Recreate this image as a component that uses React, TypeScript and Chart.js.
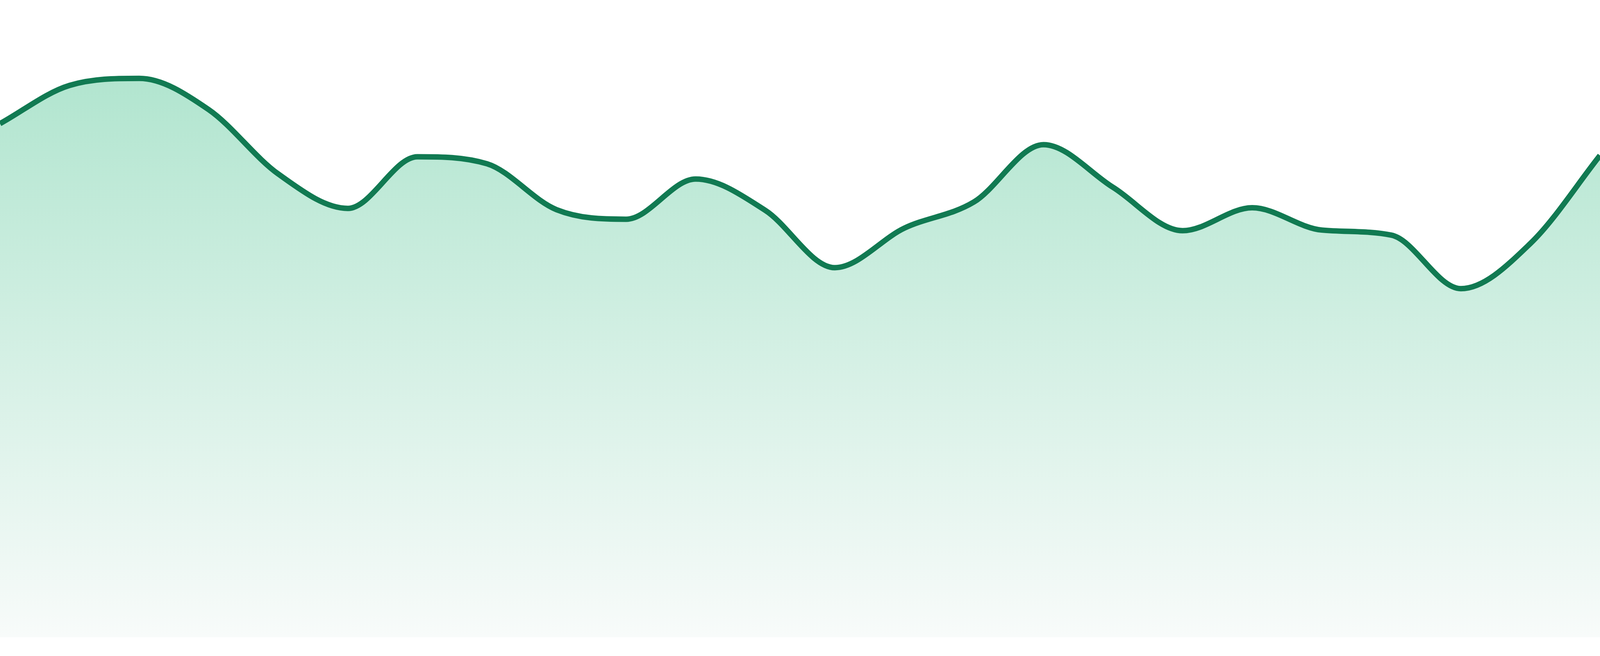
import React, { useEffect, useRef } from 'react';
import { Chart, registerables } from 'chart.js';

Chart.register(...registerables);

// ============================================
// DATA
// ============================================
const labels: string[] = [
  '1', '2', '3', '4', '5', '6', '7', '8', '9', '10', '11', '12',
  '13', '14', '15', '16', '17', '18', '19', '20', '21', '22', '23', '24',
];

const trendValues: number[] = [
  80.6, 86.6, 87.7, 82.8, 72.7, 67.3, 75.4, 74.3, 67.1, 65.6, 71.9, 67.0,
  58.0, 64.2, 68.3, 77.3, 70.6, 63.8, 67.4, 63.9, 63.1, 54.7, 61.8, 75.6,
];

const yRange: number[] = [0, 100];

// ============================================
// STYLE
// ============================================
// sizes measured on the 1680px tall picture, scaled to the real viewport height
const REF_H = 1680;
const LINE_COLOR = '#117a52';
const FILL_TOP = '#b1e5cf';
const FILL_BOTTOM = '#f8fbfa';

// ============================================
// AREA CHART
// ============================================
const TrendArea: React.FC = () => {
  const canvasRef = useRef<HTMLCanvasElement>(null);
  const chartRef = useRef<Chart | null>(null);

  useEffect(() => {
    document.body.style.margin = '0';
    document.body.style.overflow = 'hidden';
    const canvas = canvasRef.current;
    if (!canvas) return;

    const sy = window.innerHeight / REF_H;
    const peak = Math.max(...trendValues);

    chartRef.current = new Chart(canvas, {
      type: 'line',
      data: {
        labels,
        datasets: [
          {
            data: trendValues,
            borderColor: LINE_COLOR,
            borderWidth: 14 * sy,
            borderJoinStyle: 'round',
            pointRadius: 0,
            cubicInterpolationMode: 'monotone',
            fill: 'start',
            backgroundColor: (ctx: any) => {
              const { chart } = ctx;
              const area = chart.chartArea;
              if (!area) return FILL_TOP;
              const top = chart.scales.y.getPixelForValue(peak) - 7 * sy;
              const g = chart.ctx.createLinearGradient(0, top, 0, area.bottom);
              g.addColorStop(0, FILL_TOP);
              g.addColorStop(1, FILL_BOTTOM);
              return g;
            },
          },
        ],
      },
      options: {
        responsive: true,
        maintainAspectRatio: false,
        animation: false,
        layout: { padding: { left: 0, right: 0, top: 0, bottom: 48 * sy } },
        plugins: {
          legend: { display: false },
          tooltip: { enabled: false },
        },
        scales: {
          x: { display: false, offset: false },
          y: { display: false, min: yRange[0], max: yRange[1] },
        },
      },
    });

    return () => {
      if (chartRef.current) {
        chartRef.current.destroy();
        chartRef.current = null;
      }
    };
  }, []);

  return (
    <div style={{ position: 'relative', width: '100vw', height: '100vh', background: '#ffffff' }}>
      <canvas ref={canvasRef} />
    </div>
  );
};

export default function App() {
  return <TrendArea />;
}
